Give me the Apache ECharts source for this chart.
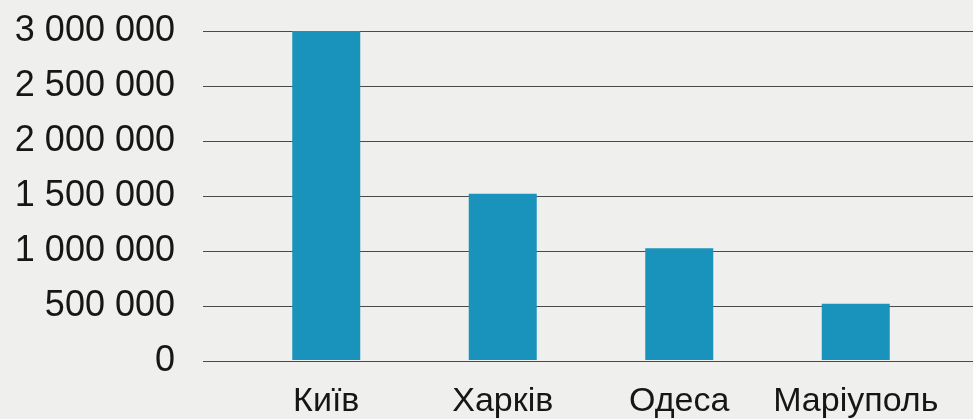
<!DOCTYPE html>
<html>
<head>
<meta charset="utf-8">
<script src="https://cdn.jsdelivr.net/npm/echarts@6/dist/echarts.min.js"></script>
<style>
html, body { margin: 0; padding: 0; background: #efefed; }
#myChart { width: 973px; height: 419px; }
</style>
</head>
<body>
<div id="myChart"></div>
<script>
// міста та населення
var cities = ['Київ', 'Харків', 'Одеса', 'Маріуполь'];
var population = [3000000, 1515000, 1020000, 512000];
var yTicks = [0, 500000, 1000000, 1500000, 2000000, 2500000, 3000000];

var fontFamily = '"Liberation Sans", Arial, sans-serif';
var yMin = yTicks[0], yMax = yTicks[yTicks.length - 1], yStep = yTicks[1] - yTicks[0];

function fmt(v) {
    return String(v).replace(/\B(?=(\d{3})+(?!\d))/g, ' ');
}

var myChart = echarts.init(document.getElementById('myChart'));
myChart.setOption({
    backgroundColor: '#efefed',
    animation: false,
    grid: [
        // сітка з лініями на всю ширину
        { left: 203, right: 0, top: 31, bottom: 58 },
        // стовпчики
        { left: 238, right: 29, top: 31, bottom: 58 }
    ],
    xAxis: [
        { gridIndex: 0, type: 'value', show: false, min: 0, max: 1 },
        {
            gridIndex: 1,
            type: 'category',
            data: cities,
            axisLine: { show: false },
            axisTick: { show: false },
            axisLabel: {
                interval: 0,
                margin: 25,
                color: '#161616',
                fontSize: 34,
                fontFamily: fontFamily
            }
        }
    ],
    yAxis: [
        {
            gridIndex: 0,
            type: 'value',
            min: yMin,
            max: yMax,
            interval: yStep,
            axisLine: { show: false },
            axisTick: { show: false },
            splitLine: { lineStyle: { color: '#4a4a4a', width: 1 } },
            axisLabel: {
                margin: 28,
                color: '#161616',
                fontSize: 36,
                fontFamily: fontFamily,
                formatter: fmt
            }
        },
        {
            gridIndex: 1,
            type: 'value',
            min: yMin,
            max: yMax,
            interval: yStep,
            show: false,
            splitLine: { show: false }
        }
    ],
    series: [
        {
            type: 'bar',
            xAxisIndex: 1,
            yAxisIndex: 1,
            data: population,
            barWidth: 68,
            itemStyle: { color: '#1a93bc' }
        }
    ]
});
</script>
</body>
</html>
